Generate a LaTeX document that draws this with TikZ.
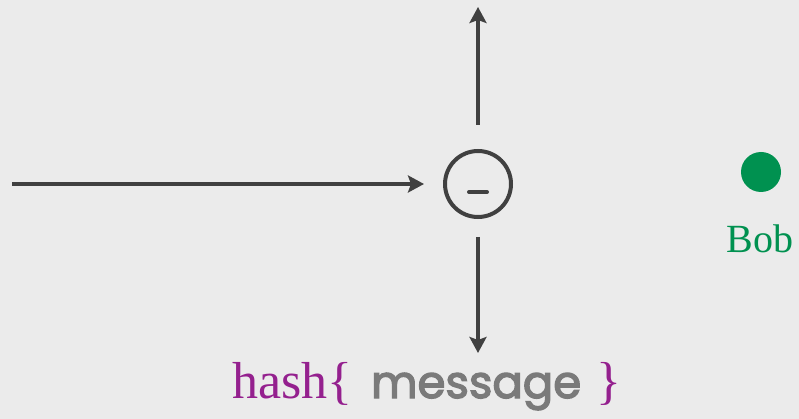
\documentclass[tikz,border=0pt]{standalone}
\usepackage{fontspec}
\usepackage{xcolor}
\usepackage{tikz}
\usetikzlibrary{arrows.meta, positioning, calc}
\newfontfamily\msgfont{Poppins}[FakeBold=3]
\newfontfamily\serifname{Liberation Serif}
\definecolor{bg}{RGB}{235,235,235}
\definecolor{ink}{RGB}{64,64,64}
\definecolor{hashpurple}{RGB}{148,32,142}
\definecolor{msggray}{RGB}{122,122,122}
\definecolor{bobgreen}{RGB}{0,145,80}

\begin{document}
\begin{tikzpicture}[
    x=1pt, y=-1pt,
    flow/.style={-{Stealth[length=16pt, width=17pt, inset=3pt]}, draw=ink, line width=3.2pt},
    opnode/.style={circle, draw=ink, line width=4pt, minimum size=66pt, inner sep=0pt},
    hashtext/.style={inner sep=0pt, anchor=base west, text=hashpurple, font=\serifname\fontsize{52}{62}\selectfont},
    msgtext/.style={inner sep=0pt, anchor=base west, text=msggray, font=\msgfont\fontsize{45}{54}\selectfont}
]
    \fill[bg] (0,0) rectangle (799,419);
    \useasboundingbox (0,0) rectangle (799,419);

    \node[opnode] (sub) at (478,184) {};
    \draw[ink, line width=4pt, line cap=round] ($(sub.center)+(-9,8)$) -- ($(sub.center)+(9,8)$);

    \coordinate (in) at (12,184);
    \coordinate (up) at (478,7);
    \coordinate (down) at (478,353);

    \draw[flow] (in) -- ([xshift=-19pt]sub.west);
    \draw[flow] ([yshift=24pt]sub.north) -- (up);
    \draw[flow] ([yshift=-18pt]sub.south) -- (down);

    % Bob
    \node[circle, fill=bobgreen, minimum size=40pt, inner sep=0pt] (bob) at (761,172) {};
    \node[inner sep=0pt, anchor=base, text=bobgreen, font=\serifname\fontsize{40}{48}\selectfont] (bobname) at (760,253) {Bob};

    % hash{ message }
    \node[hashtext] (hash) at (232,398) {hash\{};
    \node[msgtext] (msg) at (371,398) {message};
    \node[hashtext] (close) at (596,398) {\}};
\end{tikzpicture}
\end{document}
